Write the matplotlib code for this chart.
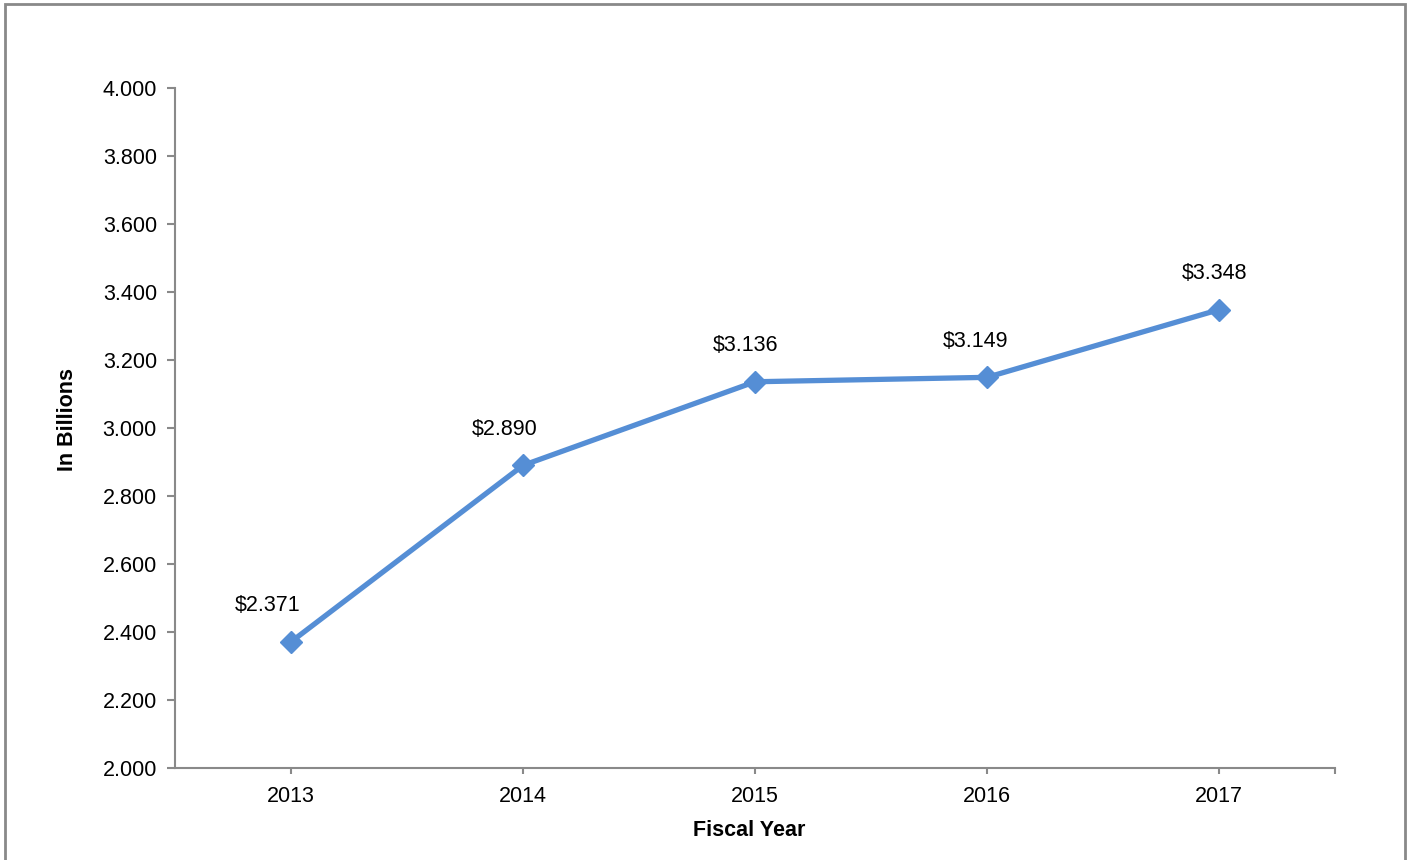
import matplotlib.pyplot as plt
from matplotlib.patches import Rectangle

plt.rcParams['font.family'] = ['Liberation Sans', 'DejaVu Sans']

years = ['2013', '2014', '2015', '2016', '2017']
values = [2.371, 2.890, 3.136, 3.149, 3.348]
labels = ['$2.371', '$2.890', '$3.136', '$3.149', '$3.348']
yticks = [2.0, 2.2, 2.4, 2.6, 2.8, 3.0, 3.2, 3.4, 3.6, 3.8, 4.0]
# horizontal nudge of each data label, in points
label_dx = [-17, -13, -6.5, -8.5, -3]

FS = 15.5

fig = plt.figure(figsize=(14.08, 8.6), dpi=100)
ax = fig.add_axes([175 / 1408, 1 - 768 / 860, 1160 / 1408, 680 / 860])

# outer chart border like Excel
fig.patches.append(Rectangle((5 / 1408, -0.05), 1400 / 1408, 1.05 - 4 / 860,
                             transform=fig.transFigure, fill=False,
                             edgecolor='#898989', linewidth=2))

x = list(range(len(years)))
ax.plot(x, values, color='#558ED5', linewidth=3.8, marker='D',
        markersize=11, zorder=3)

for xi, v, lab, dx in zip(x, values, labels, label_dx):
    ax.annotate(lab, (xi, v), xytext=(dx, 26), textcoords='offset points',
                ha='center', va='center', fontsize=FS)

ax.set_xlim(-0.5, 4.5)
ax.set_ylim(2.0, 4.0)
ax.set_xticks(x)
ax.set_xticklabels(years, fontsize=FS)
ax.set_xticks([4.5], minor=True)
ax.set_yticks(yticks)
ax.set_yticklabels(['%.3f' % t for t in yticks], fontsize=FS)

for s in ['top', 'right']:
    ax.spines[s].set_visible(False)
for s in ['left', 'bottom']:
    ax.spines[s].set_color('#898989')
    ax.spines[s].set_linewidth(1.5)
ax.tick_params(axis='y', direction='out', length=6, width=1.5, color='#898989', pad=7)
ax.tick_params(axis='x', which='both', direction='out', length=4, width=1.5,
               color='#898989', pad=9)

ax.set_xlabel('Fiscal Year', fontsize=FS, fontweight='bold')
ax.set_ylabel('In Billions', fontsize=FS, fontweight='bold')
ax.xaxis.set_label_coords(0.495, -0.076)
ax.yaxis.set_label_coords(-0.084, 0.513)

fig.savefig('out.png', dpi=100)
